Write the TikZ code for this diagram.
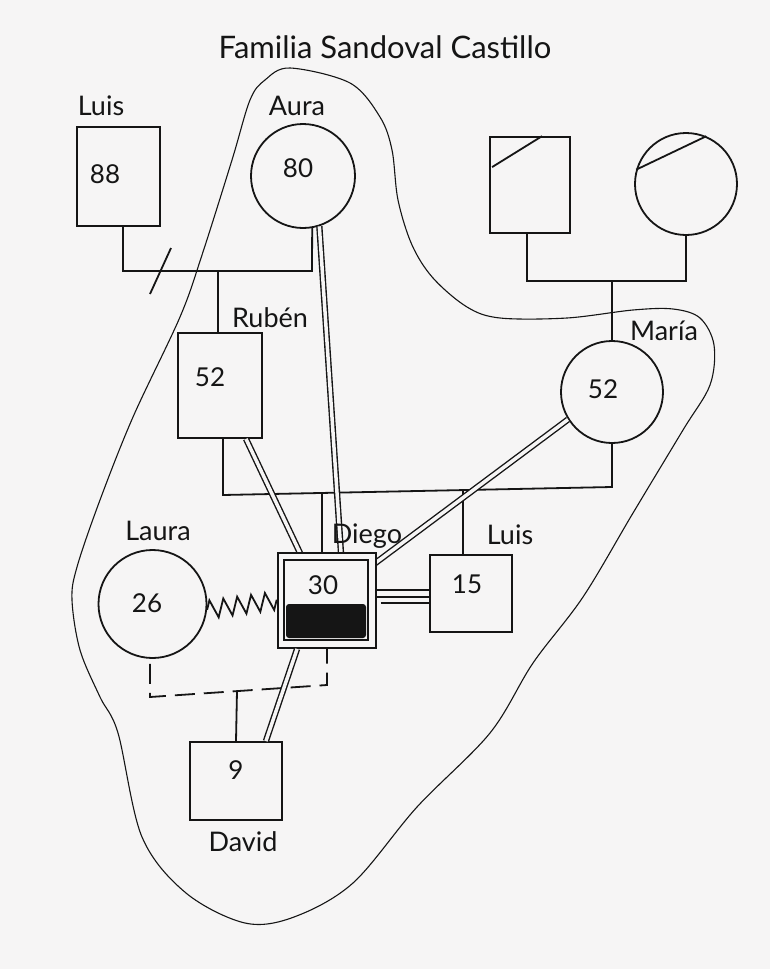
\documentclass[tikz,border=0pt]{standalone}
\usepackage{fontspec}
\setmainfont{Lato}
\usetikzlibrary{decorations.pathmorphing,calc}
\definecolor{paper}{HTML}{F6F5F5}
\definecolor{ink}{HTML}{151515}
\tikzset{
  person/.style={draw=ink, line width=1.8pt, inner sep=0pt, fill=paper},
  male/.style={person, rectangle},
  female/.style={person, circle},
  rel/.style={draw=ink, line width=1.8pt},
  dbl/.style={draw=ink, line width=1.4pt, double=paper, double distance=3.5pt},
  bound/.style={draw=ink, line width=1.1pt},
  lbl/.style={font=\fontsize{27}{27}\selectfont, text=ink, inner sep=0pt},
  num/.style={font=\fontsize{26}{26}\selectfont, text=ink, inner sep=0pt},
  ttl/.style={font=\fontsize{31}{31}\selectfont, text=ink, inner sep=0pt},
}
\begin{document}
\begin{tikzpicture}[x=1pt,y=-1pt]
\fill[paper] (0,0) rectangle (770,969);
\useasboundingbox (0,0) rectangle (770,969);

% enclosing boundary
\draw[bound] plot[smooth cycle, tension=0.55] coordinates {
 (290,68) (350,83) (380,117) (392,150) (398,200) (412,245) (433,278)
 (467,307) (500,318) (567,318) (633,310) (673,309) (700,318) (714,345)
 (710,385) (683,430) (633,513) (583,597) (533,663) (490,733) (417,807)
 (353,883) (294,917) (245,923) (186,893) (142,837) (118,733) (100,697)
 (80,650) (72,600) (77,567) (100,500) (133,417) (180,317) (202,255)
 (232,160) (250,100) (265,80)};

% title
\node[ttl] (title) at (385,47) {Familia Sandoval Castillo};

% coordinates for bends
\coordinate (a1) at (123,271);
\coordinate (a2) at (312,271);
\coordinate (s1) at (150,294);
\coordinate (s2) at (171,248);
\coordinate (r1) at (218,271);
\coordinate (g1) at (527,281);
\coordinate (g2) at (686,281);
\coordinate (g3) at (612,281);
\coordinate (m1) at (223,495);
\coordinate (m2) at (612,487);
\coordinate (c1) at (322,493);
\coordinate (c2) at (463,490);
\coordinate (d1) at (150,697);
\coordinate (d2) at (327,685);
\coordinate (d3) at (237,691);
\coordinate (e1) at (341,553);
\coordinate (e2) at (300,553);
\coordinate (e3) at (370,567);

% persons
\node[male, minimum width=83pt, minimum height=99pt] (luisA) at (118.5,176.5) {};
\node[female, minimum size=104pt] (aura) at (303,176) {};
\node[male, minimum width=80pt, minimum height=96pt] (gpM) at (530,185) {};
\node[female, minimum size=102pt] (gpF) at (686,184) {};
\node[male, minimum width=84pt, minimum height=105pt] (rub) at (220,385.5) {};
\node[female, minimum size=102pt] (maria) at (612,392) {};
\node[female, minimum size=108pt] (laura) at (152.5,604) {};
\node[male, minimum width=82pt, minimum height=77pt] (luisB) at (471,593.5) {};
\node[male, minimum width=92pt, minimum height=78pt] (david) at (236,781) {};

% connectors (drawn before Diego so Diego covers ends)
\draw[rel] (luisA.south -| a1) -- (a1) -- (a2) -- (aura.-80);
\draw[rel] (s1) -- (s2);
\draw[rel] (r1) -- (r1 |- rub.north);
\draw[rel] (g1 |- gpM.south) -- (g1) -- (g2) -- (gpF.south);
\draw[rel] (g3) -- (maria.north);
\draw[rel] (m1 |- rub.south) -- (m1) -- (m2) -- (maria.south);
\draw[rel] (c1) -- (c1 |- e1);
\draw[rel] (c2) -- (c2 |- luisB.north);
\draw[dbl] (aura.-72) -- (e1);
\draw[dbl] ($(rub.south)+(26,0)$) -- (e2);
\draw[dbl] (maria.212) -- (e3);
\draw[rel] ($(gpM.north west)+(3,31)$) -- ($(gpM.north west)+(53,0)$);
\draw[rel] (gpF.164) -- (gpF.67);

% Diego
\node[male, minimum width=98pt, minimum height=95pt] (diego) at (327,600.5) {};
\node[male, minimum width=84pt, minimum height=80pt] (diegoIn) at (326,600) {};
\node[fill=ink, rounded corners=3pt, minimum width=80pt, minimum height=34pt, inner sep=0pt] (diegoFill) at (326,621) {};

\draw[rel] ($(diego.east)+(0,-10.5)$) -- ($(luisB.west)+(0,-3.5)$);
\draw[rel] ($(diego.east)+(0,-3.5)$) -- ($(luisB.west)+(0,3.5)$);
\draw[rel] ($(diego.east)+(4,2.5)$) -- ($(luisB.west)+(0,9.5)$);
\draw[rel, decorate, decoration={zigzag, segment length=14pt, amplitude=9pt}] (laura.-6) -- (diego.west);
\draw[rel, dash pattern=on 20pt off 9pt] ($(laura.south)+(-2.5,5)$) -- (d1) -- (d2) -- (diego.south);
\draw[rel] (d3) -- (david.north);
\draw[dbl] ($(diego.south west)+(20,0)$) -- ($(david.north east)+(-17,0)$);

% numbers
\node[num] (n88) at (105,174) {88};
\node[num] (n80) at (298,168) {80};
\node[num] (n52a) at (210,377) {52};
\node[num] (n52b) at (603,389) {52};
\node[num] (n30) at (323,585) {30};
\node[num] (n15) at (467,584) {15};
\node[num] (n26) at (147,603) {26};
\node[num] (n9) at (236,770) {9};

% names
\node[lbl] (tLuisA) at (101,106) {Luis};
\node[lbl] (tAura) at (297,106) {Aura};
\node[lbl] (tRuben) at (270,318) {Rubén};
\node[lbl] (tMaria) at (664,331) {María};
\node[lbl] (tDiego) at (367,536) {Diego};
\node[lbl] (tLuisB) at (510,535) {Luis};
\node[lbl] (tLaura) at (158,531) {Laura};
\node[lbl] (tDavid) at (243,842) {David};
\end{tikzpicture}
\end{document}
